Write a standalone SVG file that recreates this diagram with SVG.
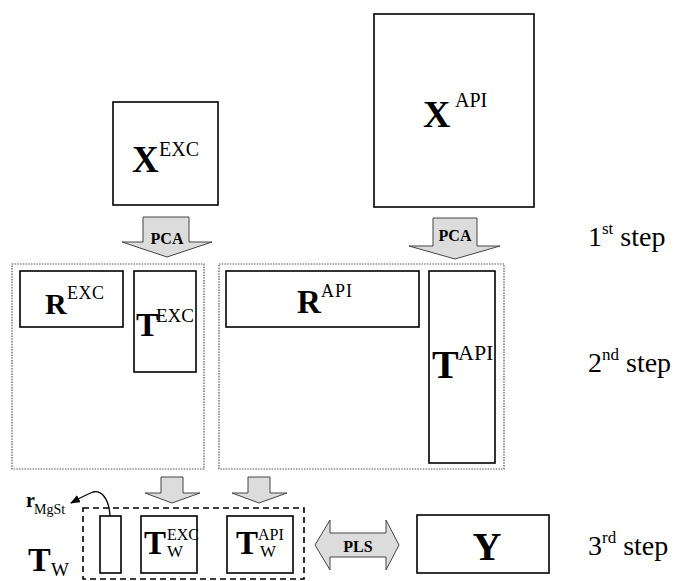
<svg xmlns="http://www.w3.org/2000/svg" width="673" height="581" viewBox="0 0 673 581">
<style>
text{font-family:"Liberation Serif","Times New Roman",serif;fill:#000}
.box{fill:#fff;stroke:#000;stroke-width:1.6}
.dot{fill:none;stroke:#555;stroke-width:1.2;stroke-dasharray:1.5 1.2}
.dash{fill:none;stroke:#000;stroke-width:1.6;stroke-dasharray:6 4}
.ar{fill:#dcdcdc;stroke:#444;stroke-width:1}
.b{font-weight:bold}
.lbl{font-weight:bold;font-size:16px;text-anchor:middle}
.step{font-size:28px}
</style>
<defs>
<marker id="ah" markerWidth="10" markerHeight="8" refX="9" refY="4" orient="auto" markerUnits="userSpaceOnUse">
<path d="M0,0 L10,4 L0,8 Z" fill="#000"/>
</marker>
</defs>
<rect width="673" height="581" fill="#fff"/>

<g id="XEXC">
<rect class="box" x="113" y="102" width="105" height="103"/>
<text class="b" x="132" y="172" font-size="37">X</text>
<text x="159" y="156" font-size="20">EXC</text>
</g>
<g id="XAPI">
<rect class="box" x="374" y="14" width="160" height="193"/>
<text class="b" x="423" y="127" font-size="38">X</text>
<text x="455" y="107" font-size="20">API</text>
</g>

<g id="groupEXC">
<rect class="dot" x="12" y="264" width="192" height="205"/>
</g>
<g id="groupAPI">
<rect class="dot" x="219" y="264" width="285" height="205"/>
</g>

<g id="REXC">
<rect class="box" x="20" y="271" width="103" height="56"/>
<text class="b" x="45" y="314" font-size="30">R</text>
<text x="67" y="299" font-size="18" letter-spacing="0.5">EXC</text>
</g>
<g id="TEXC">
<rect class="box" x="134" y="271" width="62" height="101"/>
<text class="b" x="136" y="336" font-size="34">T</text>
<text x="156" y="322" font-size="19">EXC</text>
</g>
<g id="RAPI">
<rect class="box" x="226" y="271" width="193" height="56"/>
<text class="b" x="297" y="313" font-size="33">R</text>
<text x="321" y="297" font-size="18" letter-spacing="1">API</text>
</g>
<g id="TAPI">
<rect class="box" x="429" y="271" width="66" height="192"/>
<text class="b" x="432" y="378" font-size="40">T</text>
<text x="458" y="360" font-size="22">API</text>
</g>

<g id="TW">
<rect class="dash" x="83" y="508" width="221" height="71"/>
<text class="b" x="28" y="571" font-size="34">T</text>
<text x="51" y="576" font-size="19">W</text>
</g>
<g id="rcol">
<rect class="box" x="100" y="516" width="21" height="57"/>
</g>
<g id="rMgSt">
<text class="b" x="26" y="507" font-size="20">r</text>
<text x="34" y="514" font-size="14">MgSt</text>
</g>
<g id="TWEXC">
<rect class="box" x="141" y="516" width="56" height="57"/>
<text class="b" x="144" y="554" font-size="33">T</text>
<text x="167" y="540" font-size="16">EXC</text>
<text x="167" y="557" font-size="17">W</text>
</g>
<g id="TWAPI">
<rect class="box" x="227" y="516" width="66" height="57"/>
<text class="b" x="236" y="554" font-size="33">T</text>
<text x="258" y="540" font-size="16">API</text>
<text x="260" y="557" font-size="17">W</text>
</g>
<g id="Y">
<rect class="box" x="417" y="515" width="132" height="58"/>
<text class="b" x="487" y="560" font-size="40" text-anchor="middle">Y</text>
</g>

<g id="steps">
<text class="step" x="588" y="246">1<tspan font-size="17" dy="-12">st</tspan><tspan dy="12"> step</tspan></text>
<text class="step" x="588" y="372">2<tspan font-size="17" dy="-12">nd</tspan><tspan dy="12"> step</tspan></text>
<text class="step" x="588" y="555">3<tspan font-size="17" dy="-12">rd</tspan><tspan dy="12"> step</tspan></text>
</g>

<g id="connectors">
<polygon class="ar" points="143,217 189,217 189,242 212,242 167,257 122,242 143,242"/>
<text class="lbl" x="167" y="244">PCA</text>
<polygon class="ar" points="433,218 477,218 477,246 500,246 455,259 409,246 433,246"/>
<text class="lbl" x="455" y="241">PCA</text>
<polygon class="ar" points="161,477 183,477 183,493 200,493 172,503 145,493 161,493"/>
<polygon class="ar" points="248,477 270,477 270,493 287,493 259,503 232,493 248,493"/>
<polygon class="ar" points="315,545 330,520 330,533 386,533 386,520 399,545 386,570 386,557 330,557 330,570"/>
<text class="lbl" x="358" y="552" font-size="17">PLS</text>
<path d="M110,516 C109,498 101,490 93,492 C87,494 82,497 71,503" fill="none" stroke="#000" stroke-width="1.3" marker-end="url(#ah)"/>
</g>
</svg>
